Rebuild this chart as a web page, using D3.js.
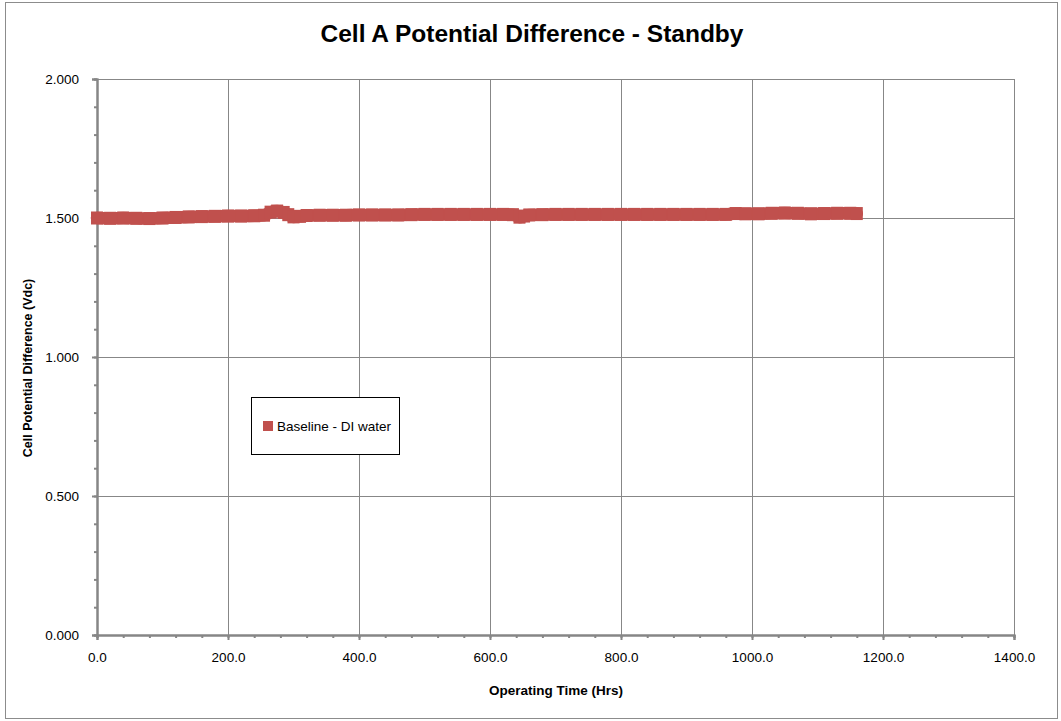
<!DOCTYPE html>
<html><head><meta charset="utf-8">
<script src="https://cdn.jsdelivr.net/npm/d3@7"></script>
<style>body{margin:0;background:#fff}svg{display:block}text{font-family:"Liberation Sans","DejaVu Sans",sans-serif}</style>
</head><body>
<svg id="c" width="1061" height="721"></svg>
<script>
const title = "Cell A Potential Difference - Standby";
const xTitle = "Operating Time (Hrs)";
const yTitle = "Cell Potential Difference (Vdc)";
const seriesName = "Baseline - DI water";
const xTicks = [0,200,400,600,800,1000,1200,1400];
const yTicks = [0,0.5,1.0,1.5,2.0];
const hours = [0,20,40,60,80,100,120,140,160,180,200,220,240,255,265,275,285,292,300,310,320,340,360,380,400,420,440,460,480,500,520,540,560,580,600,620,635,645,652,660,680,700,720,740,760,780,800,820,840,860,880,900,920,940,960,975,990,1010,1030,1050,1070,1090,1110,1130,1150,1160];
const volts = [1.500,1.499,1.500,1.499,1.498,1.500,1.502,1.504,1.505,1.506,1.507,1.507,1.508,1.510,1.521,1.525,1.520,1.512,1.504,1.506,1.509,1.510,1.510,1.510,1.511,1.511,1.511,1.511,1.512,1.513,1.513,1.513,1.513,1.513,1.513,1.513,1.512,1.503,1.507,1.511,1.512,1.513,1.513,1.513,1.513,1.513,1.513,1.513,1.513,1.513,1.513,1.513,1.513,1.513,1.513,1.516,1.515,1.515,1.517,1.518,1.517,1.515,1.516,1.517,1.517,1.516];

const svg = d3.select("#c");
const color = "#C0504D";
const gridC = "#878787";
const L=97, R=1014, T=79, B=635;
const x = d3.scaleLinear().domain([0,1400]).range([L,R]);
const y = d3.scaleLinear().domain([0,2]).range([B,T]);

svg.append("rect").attr("x",5.5).attr("y",2.5).attr("width",1052).attr("height",716)
  .attr("fill","#fff").attr("stroke","#8c8c8c").attr("stroke-width",1);

svg.append("text").attr("x",532).attr("y",42).attr("text-anchor","middle")
  .attr("font-size",24.5).attr("font-weight","bold").text(title);

// grid
const g = svg.append("g");
g.selectAll(".vg").data(xTicks.slice(1)).join("line")
  .attr("x1",d=>Math.round(x(d))+0.5).attr("x2",d=>Math.round(x(d))+0.5)
  .attr("y1",T).attr("y2",B).attr("stroke",gridC).attr("stroke-width",1);
g.selectAll(".hg").data(yTicks.slice(1)).join("line")
  .attr("y1",d=>Math.round(y(d))+0.5).attr("y2",d=>Math.round(y(d))+0.5)
  .attr("x1",L).attr("x2",R).attr("stroke",gridC).attr("stroke-width",1);

// axes
const fmt1 = d3.format(".1f"), fmt3 = d3.format(".3f");
const xAxis = d3.axisBottom(x).tickValues(xTicks).tickFormat(fmt1).tickSize(5).tickPadding(12);
const xMinor = d3.axisBottom(x).tickValues(d3.range(0,1401,40)).tickFormat("").tickSize(3);
const yAxis = d3.axisLeft(y).tickValues(yTicks).tickFormat(fmt3).tickSize(5).tickPadding(13);
const yMinor = d3.axisLeft(y).tickValues(d3.range(0,2.001,0.1)).tickFormat("").tickSize(3);

function style(sel){
  sel.selectAll(".domain").attr("stroke","#868686").attr("stroke-width",2);
  sel.selectAll(".tick line").attr("stroke","#868686").attr("stroke-width",2);
  sel.selectAll("text").attr("font-size",13.5).attr("fill","#000").attr("font-family","Liberation Sans, sans-serif");
}
svg.append("g").attr("transform",`translate(0,${B})`).call(xMinor).call(style);
svg.append("g").attr("transform",`translate(0,${B})`).call(xAxis).call(style);
svg.append("g").attr("transform",`translate(${L},0)`).call(yMinor).call(style);
svg.append("g").attr("transform",`translate(${L},0)`).call(yAxis).call(style);

svg.append("text").attr("x",556).attr("y",695).attr("text-anchor","middle")
  .attr("font-size",13.5).attr("font-weight","bold").text(xTitle);
svg.append("text").attr("transform","translate(32,368) rotate(-90)").attr("text-anchor","middle")
  .attr("font-size",12.5).attr("font-weight","bold").text(yTitle);

// data
const pts = hours.map((h,i)=>[h,volts[i]]);
svg.append("path").datum(pts)
  .attr("d", d3.line().x(d=>x(d[0])).y(d=>y(d[1])).curve(d3.curveMonotoneX))
  .attr("fill","none").attr("stroke",color).attr("stroke-width",12.5)
  .attr("stroke-linejoin","round").attr("stroke-linecap","round");
svg.append("g").selectAll("rect").data(pts).join("rect")
  .attr("x",d=>x(d[0])-6).attr("y",d=>y(d[1])-6.5).attr("width",12).attr("height",13)
  .attr("fill",color);

// legend
const lg = svg.append("g");
lg.append("rect").attr("x",251.5).attr("y",397.5).attr("width",148).attr("height",57)
  .attr("fill","#fff").attr("stroke","#000").attr("stroke-width",1);
lg.append("rect").attr("x",263).attr("y",421).attr("width",10).attr("height",10).attr("fill",color);
lg.append("text").attr("x",277).attr("y",431).attr("font-size",13.5).text(seriesName);
</script>
</body></html>
